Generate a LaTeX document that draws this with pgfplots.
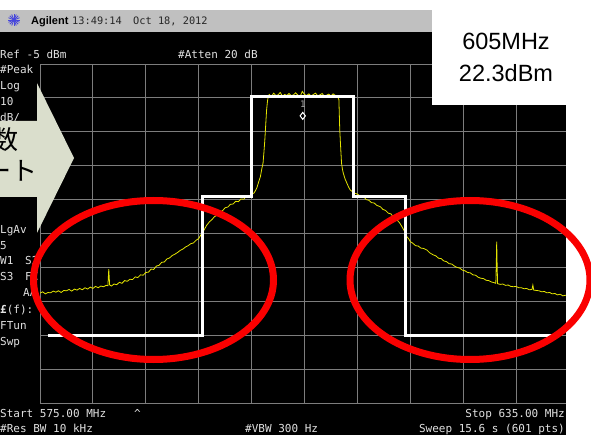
\documentclass[border=0pt]{standalone}
\usepackage{pgfplots}
\pgfplotsset{compat=1.18}
\usepackage{fontspec}
\setmainfont{Liberation Sans}
\newfontfamily\mono{DejaVu Sans Mono}
\newfontfamily\cjk{Noto Sans CJK JP}
\definecolor{trace}{RGB}{228,228,0}
\definecolor{gridc}{RGB}{125,125,125}
\definecolor{txt}{RGB}{225,225,225}
\definecolor{barc}{RGB}{192,192,192}
\definecolor{arrowc}{RGB}{218,222,204}
\definecolor{ring}{RGB}{250,0,0}
\definecolor{icon}{RGB}{70,70,220}
\begin{document}
\begin{tikzpicture}
\useasboundingbox (0pt,-435pt) rectangle (591pt,0pt);
\begin{scope}[x=1pt,y=-1pt]
\fill[white] (0,0) rectangle (591,435);
\fill[black] (0,32) rectangle (566,435);
\fill[barc] (0,10) rectangle (432,32);
\end{scope}
\begin{axis}[at={(40pt,-403pt)}, anchor=south west, scale only axis,
  width=529pt, height=339pt,
  xmin=575, xmax=635, ymin=-105, ymax=-5,
  xtick={575,581,587,593,599,605,611,617,623,629,635},
  ytick={-105,-95,-85,-75,-65,-55,-45,-35,-25,-15,-5},
  xticklabels={}, yticklabels={}, tick style={draw=none},
  grid=major, grid style={gridc, line width=0.9pt},
  axis line style={gridc, line width=0.9pt},
  clip=true]
\addplot[trace, line width=0.8pt] coordinates {
(575.0,-72.6)(575.3,-72.2)(575.6,-72.8)(575.9,-72.4)(576.2,-72.5)(576.5,-72.0)
(576.8,-72.3)(577.1,-71.9)(577.4,-72.4)(577.7,-71.8)(578.0,-71.9)(578.3,-71.5)
(578.6,-72.0)(578.9,-71.4)(579.2,-71.7)(579.5,-71.2)(579.8,-71.6)(580.1,-71.0)
(580.4,-71.4)(580.7,-70.8)(581.0,-71.2)(581.3,-70.6)(581.6,-71.0)(581.9,-70.5)
(582.2,-70.7)(582.5,-70.3)(582.7,-70.4)(582.8,-65.5)(582.9,-70.2)(583.1,-70.5)
(583.4,-69.9)(583.7,-70.1)(584.0,-69.4)(584.3,-69.7)(584.6,-68.9)(584.9,-69.1)
(585.2,-68.5)(585.5,-68.6)(585.8,-67.8)(586.1,-68.0)(586.4,-67.2)(586.7,-67.3)
(587.0,-66.5)(587.3,-66.4)(587.6,-65.5)(587.9,-65.6)(588.2,-64.6)(588.5,-64.4)
(588.8,-63.5)(589.1,-63.4)(589.4,-62.5)(589.7,-62.2)(590.0,-61.5)(590.3,-61.1)
(590.6,-60.6)(590.9,-60.0)(591.2,-59.6)(591.5,-59.0)(591.8,-58.6)(592.1,-58.0)
(592.4,-57.8)(592.7,-57.0)(593.0,-56.5)(593.3,-55.2)(593.6,-54.0)(593.9,-52.6)
(594.2,-51.6)(594.5,-50.9)(594.8,-50.0)(595.1,-49.6)(595.4,-48.6)(595.7,-48.3)
(596.0,-47.4)(596.3,-47.2)(596.6,-46.4)(596.9,-46.3)(597.2,-45.5)(597.5,-45.6)
(597.8,-44.8)(598.1,-44.9)(598.4,-44.1)(598.7,-44.0)(599.0,-43.4)(599.3,-43.0)
(599.6,-41.5)(599.8,-39.8)(600.0,-38.2)(600.15,-36.0)(600.3,-34.2)(600.4,-31.0)
(600.5,-27.4)(600.6,-23.0)(600.7,-18.6)(600.8,-16.0)(600.9,-14.4)
(601.0,-14.0)(601.25,-14.6)(601.5,-13.6)(601.75,-14.3)(602.0,-14.1)(602.25,-13.4)
(602.5,-14.5)(602.75,-14.0)(603.0,-14.3)(603.25,-13.7)(603.5,-14.4)(603.75,-14.1)
(604.0,-13.5)(604.25,-14.2)(604.5,-14.6)(604.75,-13.1)(605.0,-14.0)(605.25,-14.3)
(605.5,-13.8)(605.75,-14.5)(606.0,-14.0)(606.25,-13.6)(606.5,-14.4)(606.75,-14.1)
(607.0,-13.7)(607.25,-14.5)(607.5,-14.2)(607.75,-13.9)(608.0,-14.4)(608.25,-13.8)
(608.5,-14.3)(608.75,-14.6)
(608.9,-15.5)(609.0,-24.5)(609.1,-29.5)(609.2,-34.2)(609.3,-36.0)(609.4,-37.2)
(609.6,-38.9)(609.8,-40.1)(610.0,-41.3)(610.2,-42.2)(610.5,-42.8)(610.7,-43.1)
(611.0,-43.4)(611.3,-43.9)(611.7,-44.1)(612.0,-45.0)(612.3,-45.2)(612.6,-45.9)
(612.9,-46.0)(613.2,-46.7)(613.6,-47.1)(613.9,-47.9)(614.2,-48.2)(614.5,-49.0)
(614.8,-49.2)(615.1,-50.2)(615.5,-51.0)(615.8,-51.9)(616.1,-53.2)(616.4,-54.6)
(616.6,-55.9)(616.8,-56.5)(617.0,-57.4)(617.3,-57.9)(617.6,-58.6)(617.9,-58.7)
(618.2,-59.3)(618.5,-59.4)(618.9,-59.9)(619.2,-60.7)(619.6,-61.3)(619.9,-61.6)
(620.2,-62.3)(620.5,-62.4)(620.8,-63.1)(621.1,-63.3)(621.4,-63.9)(621.7,-64.0)
(622.0,-64.6)(622.3,-65.0)(622.6,-65.2)(622.9,-65.8)(623.2,-66.0)(623.5,-66.5)
(623.8,-66.6)(624.1,-67.2)(624.4,-67.3)(624.7,-67.9)(625.0,-68.2)(625.3,-68.3)
(625.6,-68.8)(625.9,-68.9)(626.2,-69.3)(626.5,-69.5)(626.7,-69.7)(626.75,-64.3)
(626.8,-57.4)(626.85,-64.3)(626.9,-69.8)(627.2,-70.0)(627.5,-69.9)(627.8,-70.3)
(628.1,-70.2)(628.4,-70.6)(628.7,-70.7)(629.0,-70.6)(629.3,-71.0)(629.6,-71.0)
(629.9,-71.3)(630.2,-71.2)(630.5,-71.6)(630.8,-71.5)(630.9,-70.2)(631.0,-71.7)
(631.3,-71.8)(631.6,-71.9)(631.9,-72.2)(632.2,-72.1)(632.5,-72.5)(632.8,-72.4)
(633.1,-72.8)(633.4,-72.7)(633.7,-73.1)(634.0,-72.9)(634.3,-73.4)(634.6,-73.2)
(635.0,-73.6)};
\addplot[white, line width=3pt] coordinates {
(575.9,-85)(593.45,-85)(593.45,-44)(599.0,-44)(599.0,-14.7)(610.6,-14.7)
(610.6,-44)(616.4,-44)(616.4,-85)(633.2,-85)};
\addplot[only marks, mark=diamond, mark size=3.5pt, mark options={draw=white, fill=black, line width=1pt}]
 coordinates {(604.8,-20.3)};
\node[text=gray!70, font=\mono\fontsize{9}{9}\selectfont, inner sep=0pt] at (axis cs:604.8,-16.8) {1};
\end{axis}
\begin{scope}[x=1pt,y=-1pt]
% right white regions
\fill[white] (432,0) rectangle (591,105);
\fill[white] (566,105) rectangle (591,435);
% title bar
\foreach \a in {0,22.5,...,157.5} \draw[icon, line width=0.8pt] (14,20) ++(\a:-6pt) -- ++(\a:12pt);
\node[anchor=base west, inner sep=0pt, text=black, font=\bfseries\fontsize{11}{11}\selectfont] at (31,25) {Agilent};
\node[anchor=base west, inner sep=0pt, text=black!85, font=\mono\fontsize{10.3}{11}\selectfont] at (72,25) {13:49:14};
\node[anchor=base west, inner sep=0pt, text=black!85, font=\mono\fontsize{10.3}{11}\selectfont] at (133,25) {Oct 18, 2012};
% white box text
\node[anchor=base, inner sep=0pt, text=black, font=\fontsize{23.5}{24}\selectfont] at (506,50) {605MHz};
\node[anchor=base, inner sep=0pt, text=black, font=\fontsize{23.5}{24}\selectfont] at (506,82) {22.3dBm};
% analyzer annotations
\tikzset{an/.style={anchor=base west, inner sep=0pt, text=txt, font=\mono\fontsize{11}{12}\selectfont}}
\node[an] at (0,59) {Ref -5 dBm};
\node[an] at (178,59) {\#Atten 20 dB};
\node[an] at (0,74) {\#Peak};
\node[an] at (0,90) {Log};
\node[an] at (0,106) {10};
\node[an] at (0,122) {dB/};
\node[an] at (0,234) {LgAv};
\node[an] at (0,250) {5};
\node[an] at (0,265) {W1};
\node[an] at (25,265) {S2};
\node[an] at (0,281) {S3};
\node[an] at (25,281) {FC};
\node[an] at (23,297) {AA};
\node[an] at (0,313) {{\bfseries £}(f):};
\node[an] at (0,329) {FTun};
\node[an] at (0,345) {Swp};
\node[an] at (0,417) {Start 575.00 MHz};
\node[an] at (134,417) {\char`\^};
\node[an, anchor=base east] at (565,417) {Stop 635.00 MHz};
\node[an] at (0,432) {\#Res BW 10 kHz};
\node[an] at (245,432) {\#VBW 300 Hz};
\node[an, anchor=base east] at (565,432) {Sweep 15.6 s (601 pts)};
% arrow
\fill[arrowc] (0,121) -- (37,121) -- (37,83) -- (74,158) -- (37,233) -- (37,197) -- (0,197) -- cycle;
\node[anchor=base east, inner sep=0pt, text=black, font=\cjk\fontsize{26}{26}\selectfont] at (19,150) {数};
\node[anchor=base east, inner sep=0pt, text=black, font=\cjk\fontsize{26}{26}\selectfont] at (38,181) {ート};
% red rings
\draw[ring, line width=7pt] (153.5,280) ellipse [x radius=120pt, y radius=79.5pt];
\draw[ring, line width=7pt] (470,280) ellipse [x radius=120pt, y radius=79.5pt];
\end{scope}
\end{tikzpicture}
\end{document}
